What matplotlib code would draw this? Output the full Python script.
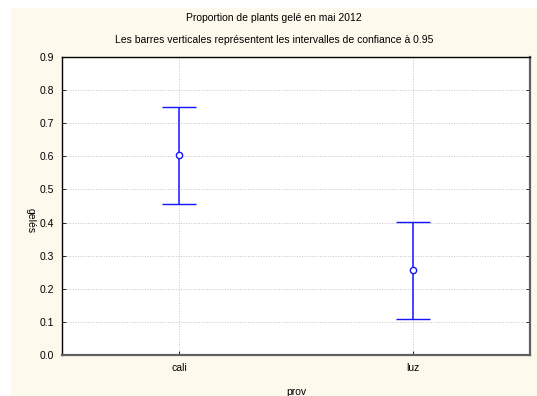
import numpy as np
import matplotlib
matplotlib.use('Agg')
import matplotlib.pyplot as plt
from matplotlib.patches import Rectangle

plt.rcParams['font.family'] = ['Liberation Sans', 'DejaVu Sans']

# data
categories = ['cali', 'luz']
means = [0.604, 0.256]
ci_low = [0.456, 0.110]
ci_high = [0.749, 0.403]

W, H = 537, 396
fig = plt.figure(figsize=(W/100, H/100), dpi=100)
fig.patch.set_facecolor('white')
# cream panel behind everything (white strip left/top like the scan)
fig.patches.append(Rectangle((11/W, 0), 1 - 11/W, (H - 8)/H,
                             transform=fig.transFigure, facecolor='#fef9ed',
                             edgecolor='none', zorder=-10))

ax = fig.add_axes([62/W, (H - 355)/H, (530 - 62)/W, (355 - 57)/H])
ax.set_facecolor('white')

x = np.arange(len(categories))
m = np.array(means)
yerr = np.vstack([m - np.array(ci_low), np.array(ci_high) - m])
ax.errorbar(x, m, yerr=yerr, fmt='o', color='#1414ff', ecolor='#1414ff',
            elinewidth=1.1, capsize=12, capthick=1.1, markersize=4.5,
            markerfacecolor='white', markeredgecolor='#1414ff',
            markeredgewidth=1.0, zorder=3)

ax.set_xlim(-0.5, 1.5)
ax.set_ylim(0, 0.9)
ax.set_xticks(x)
ax.set_xticklabels(categories)
ax.set_yticks(np.arange(0, 0.91, 0.1))
ax.set_yticklabels(['%.1f' % v for v in np.arange(0, 0.91, 0.1)])
ax.tick_params(axis='both', labelsize=7.5, length=3, width=0.6, direction='in',
               pad=6, color='black')
ax.tick_params(axis='y', right=True)
ax.grid(True, color='#c4c4c4', linestyle=':', linewidth=0.7, zorder=0)
ax.set_axisbelow(True)

for s in ['left', 'top']:
    ax.spines[s].set_color('black')
    ax.spines[s].set_linewidth(1.0)
for s in ['right', 'bottom']:
    ax.spines[s].set_color('#606060')
    ax.spines[s].set_linewidth(1.6)

ax.set_xlabel('prov', fontsize=7.5, labelpad=10)
ax.set_ylabel('gelés', fontsize=7.5, rotation=-90, labelpad=2, va='center')
ax.yaxis.set_label_coords(-0.066, 0.45)

fig.text(0.5 + 11/W/2, 1 - 18/H, 'Proportion de plants gelé en mai 2012',
         ha='center', va='center', fontsize=7.5)
fig.text(0.5 + 11/W/2, 1 - 40/H,
         'Les barres verticales représentent les intervalles de confiance à 0.95',
         ha='center', va='center', fontsize=7.5)

fig.savefig('out.png', dpi=100)
